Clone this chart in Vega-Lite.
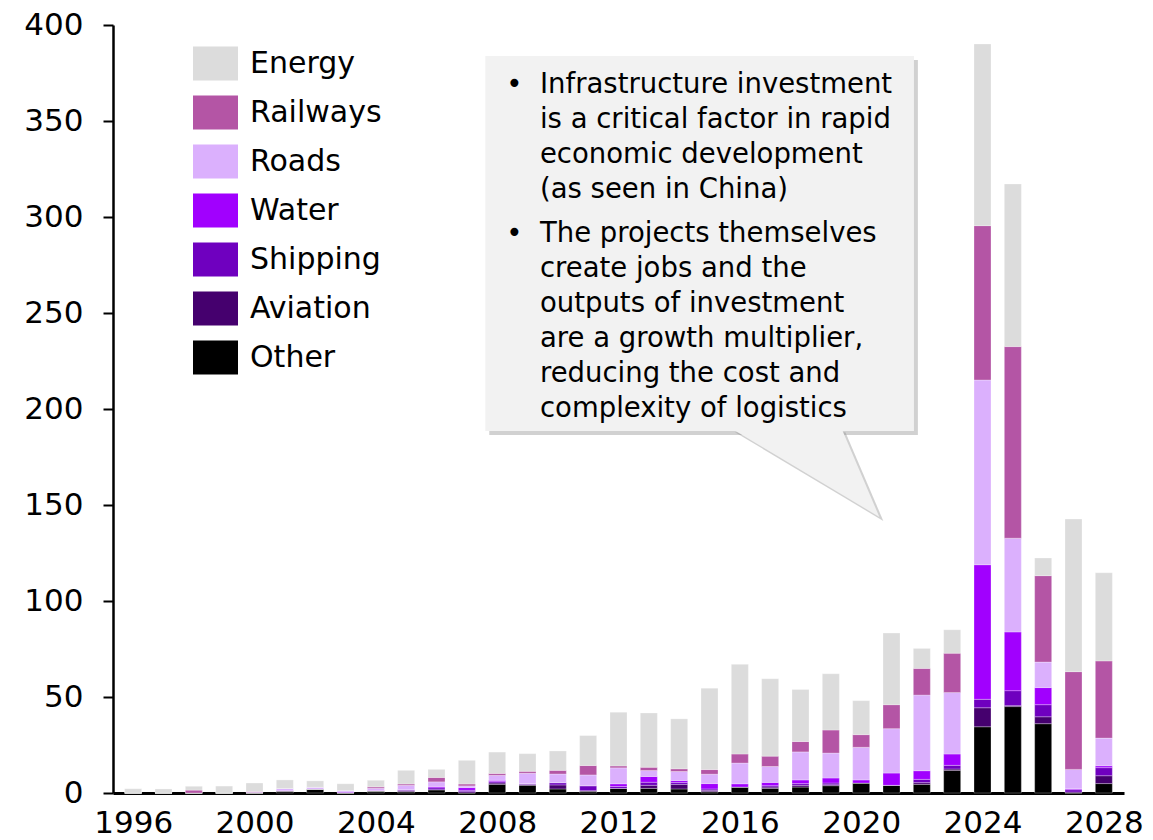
{
  "$schema": "https://vega.github.io/schema/vega-lite/v6.json",
  "width": 1011,
  "height": 768,
  "autosize": {"type": "none"},
  "padding": {"left": 113, "top": 25, "right": 29, "bottom": 47},
  "config": {"view": {"stroke": null}, "font": "DejaVu Sans", "background": "white"},
  "layer": [
    {
      "data": {"values": [
        {"year": 1996, "Other": 0, "Aviation": 0, "Shipping": 0, "Water": 0, "Roads": 0, "Railways": 0, "Energy": 2.2},
        {"year": 1997, "Other": 0, "Aviation": 0, "Shipping": 0, "Water": 0, "Roads": 0, "Railways": 0, "Energy": 2.1},
        {"year": 1998, "Other": 0, "Aviation": 0, "Shipping": 0, "Water": 0, "Roads": 0, "Railways": 1.5, "Energy": 2.0},
        {"year": 1999, "Other": 0, "Aviation": 0, "Shipping": 0, "Water": 0, "Roads": 0, "Railways": 0, "Energy": 3.6},
        {"year": 2000, "Other": 0, "Aviation": 0, "Shipping": 0, "Water": 0, "Roads": 0.4, "Railways": 0.4, "Energy": 4.4},
        {"year": 2001, "Other": 1.0, "Aviation": 0, "Shipping": 0, "Water": 0.3, "Roads": 1.0, "Railways": 0, "Energy": 4.5},
        {"year": 2002, "Other": 2.0, "Aviation": 0, "Shipping": 0, "Water": 0, "Roads": 1.0, "Railways": 0, "Energy": 3.3},
        {"year": 2003, "Other": 0, "Aviation": 0, "Shipping": 0, "Water": 0.4, "Roads": 0.8, "Railways": 0, "Energy": 3.6},
        {"year": 2004, "Other": 1.0, "Aviation": 0, "Shipping": 0, "Water": 0.3, "Roads": 1.2, "Railways": 0.7, "Energy": 3.4},
        {"year": 2005, "Other": 0.7, "Aviation": 0.5, "Shipping": 0.5, "Water": 0, "Roads": 2.3, "Railways": 0.7, "Energy": 7.1},
        {"year": 2006, "Other": 1.7, "Aviation": 0, "Shipping": 1.0, "Water": 0.7, "Roads": 2.4, "Railways": 2.3, "Energy": 4.2},
        {"year": 2007, "Other": 0, "Aviation": 0.7, "Shipping": 0.7, "Water": 1.4, "Roads": 0.9, "Railways": 1.0, "Energy": 12.3},
        {"year": 2008, "Other": 4.5, "Aviation": 0.7, "Shipping": 0.7, "Water": 0.7, "Roads": 2.6, "Railways": 1.0, "Energy": 11.1},
        {"year": 2009, "Other": 4.0, "Aviation": 0.4, "Shipping": 0.5, "Water": 0, "Roads": 5.4, "Railways": 1.0, "Energy": 9.2},
        {"year": 2010, "Other": 2.1, "Aviation": 2.1, "Shipping": 1.2, "Water": 0, "Roads": 4.5, "Railways": 1.9, "Energy": 10.1},
        {"year": 2011, "Other": 0.9, "Aviation": 0.3, "Shipping": 2.6, "Water": 0, "Roads": 5.6, "Railways": 4.9, "Energy": 15.6},
        {"year": 2012, "Other": 2.4, "Aviation": 0, "Shipping": 1.0, "Water": 1.4, "Roads": 8.3, "Railways": 1.0, "Energy": 28.0},
        {"year": 2013, "Other": 2.4, "Aviation": 1.6, "Shipping": 1.6, "Water": 3.0, "Roads": 3.1, "Railways": 1.7, "Energy": 28.3},
        {"year": 2014, "Other": 2.1, "Aviation": 2.4, "Shipping": 1.0, "Water": 1.0, "Roads": 4.7, "Railways": 1.4, "Energy": 26.0},
        {"year": 2015, "Other": 0.7, "Aviation": 0.7, "Shipping": 0.7, "Water": 2.8, "Roads": 4.9, "Railways": 2.4, "Energy": 42.4},
        {"year": 2016, "Other": 3.1, "Aviation": 0, "Shipping": 0, "Water": 1.7, "Roads": 10.8, "Railways": 4.7, "Energy": 46.7},
        {"year": 2017, "Other": 2.4, "Aviation": 0.7, "Shipping": 0.7, "Water": 1.7, "Roads": 8.3, "Railways": 5.4, "Energy": 40.3},
        {"year": 2018, "Other": 3.1, "Aviation": 0.9, "Shipping": 0.9, "Water": 1.9, "Roads": 14.6, "Railways": 5.4, "Energy": 27.1},
        {"year": 2019, "Other": 3.8, "Aviation": 0.5, "Shipping": 0.9, "Water": 2.6, "Roads": 13.0, "Railways": 12.0, "Energy": 29.3},
        {"year": 2020, "Other": 5.2, "Aviation": 0, "Shipping": 0, "Water": 1.6, "Roads": 17.0, "Railways": 6.6, "Energy": 17.7},
        {"year": 2021, "Other": 4.0, "Aviation": 0, "Shipping": 0, "Water": 6.4, "Roads": 23.1, "Railways": 12.5, "Energy": 37.3},
        {"year": 2022, "Other": 4.5, "Aviation": 0.9, "Shipping": 1.7, "Water": 4.5, "Roads": 39.4, "Railways": 13.9, "Energy": 10.4},
        {"year": 2023, "Other": 11.8, "Aviation": 0.7, "Shipping": 1.9, "Water": 5.9, "Roads": 32.0, "Railways": 20.5, "Energy": 12.2},
        {"year": 2024, "Other": 34.5, "Aviation": 9.9, "Shipping": 4.4, "Water": 70.1, "Roads": 96.2, "Railways": 80.4, "Energy": 94.6},
        {"year": 2025, "Other": 45.0, "Aviation": 0.5, "Shipping": 7.8, "Water": 30.6, "Roads": 48.8, "Railways": 99.8, "Energy": 84.7},
        {"year": 2026, "Other": 36.1, "Aviation": 3.6, "Shipping": 6.3, "Water": 8.9, "Roads": 13.3, "Railways": 45.0, "Energy": 9.2},
        {"year": 2027, "Other": 0, "Aviation": 0.5, "Shipping": 1.2, "Water": 0.5, "Roads": 10.1, "Railways": 50.9, "Energy": 79.5},
        {"year": 2028, "Other": 4.9, "Aviation": 4.1, "Shipping": 4.2, "Water": 1.0, "Roads": 14.4, "Railways": 40.2, "Energy": 45.9}
      ]},
      "transform": [
        {"fold": ["Other", "Aviation", "Shipping", "Water", "Roads", "Railways", "Energy"], "as": ["sector", "value"]},
        {"calculate": "indexof(['Other','Aviation','Shipping','Water','Roads','Railways','Energy'], datum.sector)", "as": "stackOrder"}
      ],
      "mark": {"type": "bar", "width": 17, "stroke": "white", "strokeWidth": 0.4, "strokeOpacity": 0.7},
      "encoding": {
        "x": {
          "field": "year", "type": "quantitative",
          "scale": {"domain": [1995.5, 2028.5], "nice": false, "zero": false},
          "axis": {
            "values": [1996, 2000, 2004, 2008, 2012, 2016, 2020, 2024, 2028],
            "format": "d", "ticks": false, "grid": false, "title": null,
            "domainColor": "black", "domainWidth": 3,
            "labelFontSize": 31, "labelColor": "black", "labelPadding": 15,
            "labelFlush": false, "labelOverlap": false, "labelBound": false, "labelFont": "DejaVu Sans"
          }
        },
        "y": {
          "field": "value", "type": "quantitative", "stack": "zero",
          "scale": {"domain": [0, 400], "nice": false},
          "axis": {
            "values": [0, 50, 100, 150, 200, 250, 300, 350, 400],
            "grid": false, "title": null,
            "domainColor": "black", "domainWidth": 2.5,
            "tickColor": "black", "tickWidth": 2, "tickSize": 10,
            "labelFontSize": 31, "labelColor": "black", "labelPadding": 20, "labelFont": "DejaVu Sans"
          }
        },
        "color": {
          "field": "sector", "type": "nominal",
          "scale": {
            "domain": ["Energy", "Railways", "Roads", "Water", "Shipping", "Aviation", "Other"],
            "range": ["#dcdcdc", "#b455a5", "#dbb0fd", "#a100fe", "#6f00bf", "#45006e", "#000000"]
          },
          "legend": {
            "orient": "none", "legendX": 80, "legendY": 16, "title": null,
            "symbolType": "M-1,-0.756L1,-0.756L1,0.756L-1,0.756Z", "symbolSize": 2025,
            "symbolStrokeWidth": 0, "symbolOpacity": 1,
            "labelFontSize": 30, "labelColor": "black", "labelOffset": 12, "labelFont": "DejaVu Sans",
            "rowPadding": 9
          }
        },
        "order": {"field": "stackOrder", "type": "quantitative", "sort": "ascending"}
      }
    },
    {
      "data": {"values": [{}]},
      "mark": {"type": "rect", "color": "#8c8c8c", "opacity": 0.4},
      "encoding": {
        "x": {"datum": 2007.74}, "x2": {"datum": 2021.87},
        "y": {"datum": 381.8}, "y2": {"datum": 186.4}
      }
    },
    {
      "data": {"values": [
        {"px": 2015.84, "top": 187.9, "bot": 187.9},
        {"px": 2019.48, "top": 187.9, "bot": 153.5},
        {"px": 2020.73, "top": 141.7, "bot": 141.7}
      ]},
      "mark": {"type": "area", "color": "#8c8c8c", "opacity": 0.4},
      "encoding": {
        "x": {"field": "px", "type": "quantitative"},
        "y": {"field": "top", "type": "quantitative"},
        "y2": {"field": "bot"}
      }
    },
    {
      "data": {"values": [{}]},
      "mark": {"type": "rect", "color": "#f2f2f2", "opacity": 1},
      "encoding": {
        "x": {"datum": 2007.61}, "x2": {"datum": 2021.74},
        "y": {"datum": 383.9}, "y2": {"datum": 188.5}
      }
    },
    {
      "data": {"values": [
        {"px": 2015.71, "top": 190, "bot": 190},
        {"px": 2019.35, "top": 190, "bot": 155.6},
        {"px": 2020.6, "top": 143.75, "bot": 143.75}
      ]},
      "mark": {"type": "area", "color": "#f2f2f2", "opacity": 1},
      "encoding": {
        "x": {"field": "px", "type": "quantitative"},
        "y": {"field": "top", "type": "quantitative"},
        "y2": {"field": "bot"}
      }
    },
    {
      "data": {"values": [{}]},
      "mark": {"type": "text", "text": ["Infrastructure investment", "is a critical factor in rapid", "economic development", "(as seen in China)"], "align": "left", "baseline": "alphabetic", "fontSize": 27.5, "lineHeight": 35, "font": "DejaVu Sans", "color": "black"},
      "encoding": {"x": {"datum": 2009.41}, "y": {"datum": 364.6}}
    },
    {
      "data": {"values": [{}]},
      "mark": {"type": "text", "text": ["The projects themselves", "create jobs and the", "outputs of investment", "are a growth multiplier,", "reducing the cost and", "complexity of logistics"], "align": "left", "baseline": "alphabetic", "fontSize": 27.5, "lineHeight": 35, "font": "DejaVu Sans", "color": "black"},
      "encoding": {"x": {"datum": 2009.41}, "y": {"datum": 287.0}}
    },
    {
      "data": {"values": [{"b": "•", "yy": 364.6}, {"b": "•", "yy": 287.0}]},
      "mark": {"type": "text", "align": "left", "baseline": "alphabetic", "fontSize": 27.5, "font": "DejaVu Sans", "color": "black"},
      "encoding": {"x": {"datum": 2008.3}, "y": {"field": "yy", "type": "quantitative"}, "text": {"field": "b"}}
    }
  ]
}
